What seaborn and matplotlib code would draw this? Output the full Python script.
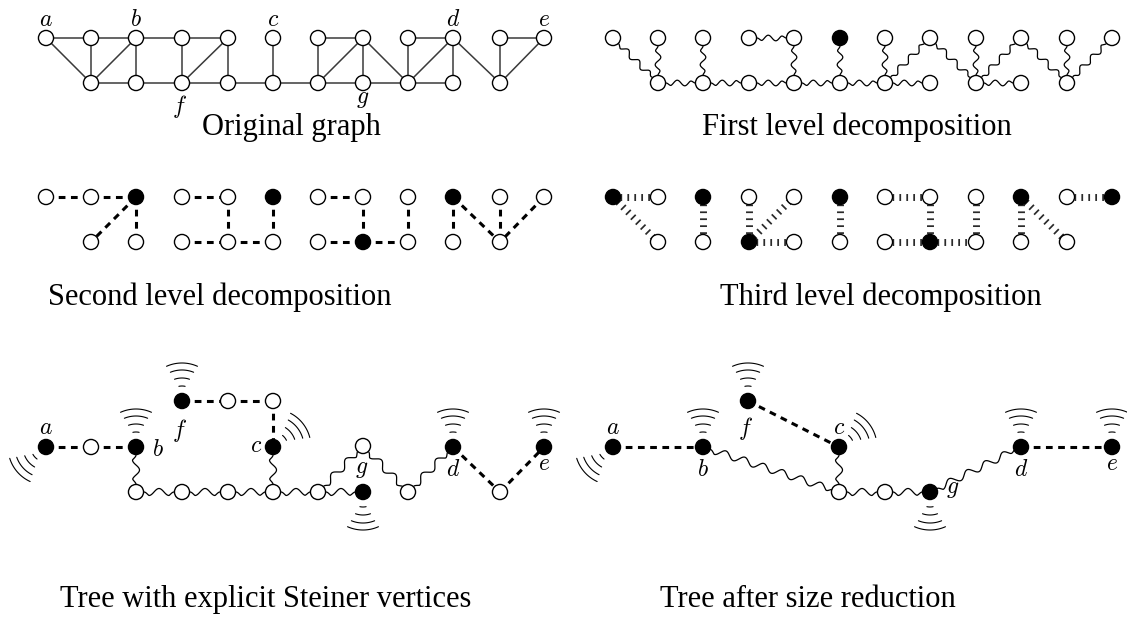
import matplotlib
matplotlib.use("Agg")
import matplotlib.pyplot as plt
import seaborn as sns
import numpy as np

# column positions (pixels) of the two panel columns, and row heights
cols_left = [46, 91, 136, 182, 228, 273, 318, 363, 408, 453, 500, 544]
cols_right = [613, 658, 703, 749, 794, 840, 885, 930, 976, 1021, 1067, 1112]
rows_top = (38, 83)
rows_mid = (197, 242)

grid_nodes = ["T0", "T1", "T2", "T3", "T4", "T5", "T6", "T7", "T8", "T9", "T10", "T11",
              "B1", "B2", "B3", "B4", "B5", "B6", "B7", "B8", "B9", "B10"]

orig_edges = [("T0", "T1"), ("T1", "T2"), ("T2", "T3"), ("T3", "T4"), ("T6", "T7"),
              ("T8", "T9"), ("T10", "T11"),
              ("T0", "B1"), ("B1", "T2"), ("B3", "T4"), ("B6", "T7"), ("T7", "B8"),
              ("B8", "T9"), ("T9", "B10"), ("B10", "T11"),
              ("T1", "B1"), ("T2", "B2"), ("T3", "B3"), ("T4", "B4"), ("T5", "B5"),
              ("T6", "B6"), ("T7", "B7"), ("T8", "B8"), ("T9", "B9"), ("T10", "B10"),
              ("B1", "B2"), ("B2", "B3"), ("B3", "B4"), ("B4", "B5"), ("B5", "B6"),
              ("B6", "B7"), ("B7", "B8"), ("B8", "B9")]
orig_labels = {"a": (46, 20), "b": (136, 20), "c": (273, 20), "d": (453, 20),
               "e": (544, 20), "f": (180, 107), "g": (363, 99)}

first_edges = [("T0", "B1"), ("T1", "B1"), ("T2", "B2"), ("T3", "T4"), ("T4", "B4"),
               ("T5", "B5"), ("B1", "B2"), ("B2", "B3"), ("B3", "B4"), ("B4", "B5"),
               ("B5", "B6"), ("T6", "B6"), ("B6", "B7"), ("T7", "B6"), ("T7", "B8"),
               ("T8", "B8"), ("B8", "B9"), ("T9", "B8"), ("T9", "B10"), ("T10", "B10"),
               ("T11", "B10")]
first_filled = ["T5"]

second_edges = [("T0", "T1"), ("T1", "T2"), ("T2", "B1"), ("T2", "B2"), ("T3", "T4"),
                ("T4", "B4"), ("T5", "B5"), ("B3", "B4"), ("B4", "B5"), ("T6", "T7"),
                ("T7", "B7"), ("B6", "B7"), ("B7", "B8"), ("T8", "B8"), ("T9", "B9"),
                ("T9", "B10"), ("T10", "B10"), ("T11", "B10")]
second_filled = ["T2", "T5", "B7", "T9"]

third_edges = [("T0", "T1"), ("T0", "B1"), ("T2", "B2"), ("T3", "B3"), ("B3", "T4"),
               ("B3", "B4"), ("T5", "B5"), ("T6", "T7"), ("T7", "B7"), ("B6", "B7"),
               ("B7", "B8"), ("T8", "B8"), ("T9", "B9"), ("T9", "B10"), ("T10", "T11")]
third_filled = ["T0", "T2", "B3", "T5", "B7", "T9", "T11"]

# Steiner tree panel
st_pos = {"a": (46, 447), "s1": (91, 447), "b": (136, 447), "f": (182, 401),
          "s2": (228, 401), "s3": (273, 401), "c": (273, 447), "s4": (136, 492),
          "s5": (182, 492), "s6": (228, 492), "s7": (273, 492), "s8": (318, 492),
          "s9": (363, 446), "g": (363, 492), "s10": (408, 492), "d": (453, 447),
          "s11": (500, 492), "e": (544, 447)}
st_dashed = [("a", "s1"), ("s1", "b"), ("f", "s2"), ("s2", "s3"), ("s3", "c"),
             ("d", "s11"), ("s11", "e")]
st_wavy = [("b", "s4"), ("c", "s7"), ("s4", "s5"), ("s5", "s6"), ("s6", "s7"),
           ("s7", "s8"), ("s8", "g"), ("s8", "s9"), ("s9", "s10"), ("s10", "d")]
st_labels = {"a": (46, 428), "b": (158, 450), "f": (180, 430), "c": (256, 447),
             "g": (362, 469), "d": (453, 471), "e": (544, 465)}

# reduced tree panel
rt_pos = {"a": (613, 447), "b": (703, 447), "f": (748, 401), "c": (839, 447),
          "s1": (839, 492), "s2": (885, 492), "g": (930, 492), "d": (1021, 447),
          "e": (1112, 447)}
rt_dashed = [("a", "b"), ("f", "c"), ("d", "e")]
rt_wavy = [("b", "s1"), ("c", "s1"), ("s1", "s2"), ("s2", "g"), ("g", "d")]
rt_labels = {"a": (613, 428), "b": (703, 470), "f": (746, 428), "c": (839, 428),
             "g": (953, 489), "d": (1021, 471), "e": (1112, 465)}

terminals = ["a", "b", "c", "d", "e", "f", "g"]
antenna_dir = {"a": (-0.75, 0.66), "b": (0, -1), "f": (0, -1), "c": (0.78, -0.62),
               "g": (0, 1), "d": (0, -1), "e": (0, -1)}

titles = [("Original graph", 202, 135), ("First level decomposition", 702, 135),
          ("Second level decomposition", 48, 305), ("Third level decomposition", 720, 305),
          ("Tree with explicit Steiner vertices", 60, 607),
          ("Tree after size reduction", 660, 607)]


def grid_pos(cols, rows):
    pos = {}
    for n in grid_nodes:
        i = int(n[1:])
        pos[n] = (cols[i], rows[0] if n[0] == "T" else rows[1])
    return pos


def draw_nodes(ax, pos, filled=()):
    names = list(pos)
    xs = [pos[n][0] for n in names]
    ys = [pos[n][1] for n in names]
    colors = ["black" if n in filled else "white" for n in names]
    sns.scatterplot(x=xs, y=ys, c=colors, edgecolor="black", s=118, linewidth=1.0,
                    zorder=5, ax=ax, legend=False)


def straight(ax, pos, edges, **kw):
    for u, v in edges:
        ax.plot([pos[u][0], pos[v][0]], [pos[u][1], pos[v][1]], **kw)


def wavy(ax, pos, edges, amp=3.3, wl=17):
    for u, v in edges:
        p, q = np.array(pos[u], float), np.array(pos[v], float)
        d = q - p
        L = np.hypot(*d)
        t = d / L
        nrm = np.array([-t[1], t[0]])
        s = np.linspace(0, L, int(L * 2) + 2)
        env = np.clip((s - 8) / 5, 0, 1) * np.clip((L - 8 - s) / 5, 0, 1)
        off = amp * np.sin(2 * np.pi * (s - 8) / wl) * env
        pts = p + np.outer(s, t) + np.outer(off, nrm)
        ax.plot(pts[:, 0], pts[:, 1], color="black", lw=0.9, zorder=2)


def antenna(ax, c, direction):
    ang = np.arctan2(direction[1], direction[0])
    for r, h in zip([15, 23, 31, 38], [12, 19, 22, 24]):
        th = np.radians(np.linspace(-h, h, 30)) + ang
        ax.plot(c[0] + r * np.cos(th), c[1] + r * np.sin(th), color="black", lw=0.8, zorder=3)


sns.set_theme(style="white")
plt.rcParams["font.family"] = ["Liberation Serif", "DejaVu Serif"]
plt.rcParams["mathtext.fontset"] = "cm"
plt.rcParams["text.color"] = "black"

fig = plt.figure(figsize=(11.27, 6.23), dpi=100)
ax = fig.add_axes([0, 0, 1, 1])
ax.set_xlim(0, 1127)
ax.set_ylim(623, 0)
ax.axis("off")

dash_kw = dict(color="black", lw=2.2, dashes=(2.2, 1.8), zorder=2, solid_capstyle="butt")
ladder_kw = dict(color="#2a2a2a", lw=5.0, dashes=(0.25, 0.75), zorder=2)

# original graph
p1 = grid_pos(cols_left, rows_top)
straight(ax, p1, orig_edges, color="#3a3a3a", lw=1.1, zorder=2)
draw_nodes(ax, p1)
for k, (x, y) in orig_labels.items():
    ax.text(x, y, f"${k}$", fontsize=17, ha="center", va="center", color="black")

# first level
p2 = grid_pos(cols_right, rows_top)
wavy(ax, p2, first_edges, amp=2.8, wl=15)
draw_nodes(ax, p2, first_filled)

# second level
p3 = grid_pos(cols_left, rows_mid)
straight(ax, p3, second_edges, **dash_kw)
draw_nodes(ax, p3, second_filled)

# third level
p4 = grid_pos(cols_right, rows_mid)
straight(ax, p4, third_edges, **ladder_kw)
draw_nodes(ax, p4, third_filled)

# trees
for pos, dashed, wav, labels in [(st_pos, st_dashed, st_wavy, st_labels),
                                 (rt_pos, rt_dashed, rt_wavy, rt_labels)]:
    straight(ax, pos, dashed, **dash_kw)
    wavy(ax, pos, wav, amp=3.5, wl=20)
    draw_nodes(ax, pos, terminals)
    for k in terminals:
        antenna(ax, pos[k], antenna_dir[k])
    for k, (x, y) in labels.items():
        ax.text(x, y, f"${k}$", fontsize=17, ha="center", va="center", zorder=6,
                color="black")

for txt, x, y in titles:
    ax.text(x, y, txt, fontsize=22, ha="left", va="baseline", color="black")

fig.savefig("out.png", dpi=100)
